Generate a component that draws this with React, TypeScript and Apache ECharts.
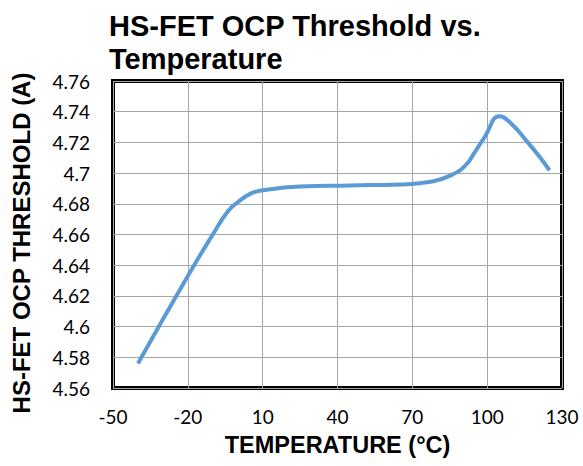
import React, { useEffect, useRef } from "react";
import * as echarts from "echarts";

const titleLines = ["HS-FET OCP Threshold vs.", "Temperature"];
const xAxisName = "TEMPERATURE (°C)";
const yAxisName = "HS-FET OCP THRESHOLD (A)";
const temperatures = [-40, -20, -10, -4, 0, 5, 10, 25, 45, 65, 78, 86, 91, 95, 99, 105, 110, 115.5, 121, 125];
const thresholds = [4.576, 4.633, 4.66, 4.675, 4.681, 4.6865, 4.6888, 4.6913, 4.692, 4.6926, 4.6945, 4.699, 4.7045, 4.7135, 4.7235, 4.7371, 4.7317, 4.7215, 4.7106, 4.7017];

export default function App() {
  const ref = useRef<HTMLDivElement>(null);
  useEffect(() => {
    const chart = echarts.init(ref.current!, null, { renderer: "svg" });
    chart.setOption({
      animation: false,
      backgroundColor: "#fff",
      title: {
        text: titleLines.join("\n"),
        left: 104,
        top: 4,
        textStyle: {
          fontFamily: "Liberation Sans, Arial, sans-serif",
          fontWeight: "bold",
          fontSize: 29,
          lineHeight: 33,
          color: "#000",
        },
      },
      graphic: [
        {
          type: "text",
          x: 21,
          y: 243,
          rotation: Math.PI / 2,
          style: {
            text: yAxisName,
            align: "center",
            verticalAlign: "middle",
            fontFamily: "Liberation Sans, Arial, sans-serif",
            fontWeight: "bold",
            fontSize: 24,
            fill: "#000",
          },
        },
      ],
      grid: {
        left: 113,
        right: 21,
        top: 81,
        bottom: 78,
        show: true,
        borderColor: "#000",
        borderWidth: 4,
        containLabel: false,
      },
      xAxis: {
        type: "value",
        min: -50,
        max: 130,
        interval: 30,
        name: xAxisName,
        nameLocation: "middle",
        nameGap: 45,
        nameTextStyle: {
          fontFamily: "Liberation Sans, Arial, sans-serif",
          fontWeight: "bold",
          fontSize: 23.5,
          color: "#000",
        },
        axisLine: { show: false },
        axisTick: { show: false },
        axisLabel: {
          fontFamily: "Lato, sans-serif",
          fontSize: 19,
          color: "#000",
          margin: 19,
        },
        splitLine: { show: true, lineStyle: { color: "#a6a6a6", width: 1 } },
      },
      yAxis: {
        type: "value",
        min: 4.56,
        max: 4.76,
        interval: 0.02,
        axisLine: { show: false },
        axisTick: { show: false },
        axisLabel: {
          fontFamily: "Lato, sans-serif",
          fontSize: 19,
          color: "#000",
          margin: 23,
          formatter: (v: number) => String(parseFloat(v.toFixed(2))),
        },
        splitLine: { show: true, lineStyle: { color: "#a6a6a6", width: 1 } },
      },
      series: [
        {
          type: "line",
          data: temperatures.map((t, i) => [t, thresholds[i]]),
          smooth: 0.5,
          showSymbol: false,
          lineStyle: { color: "#5b9bd5", width: 4 },
        },
      ],
    });
    return () => chart.dispose();
  }, []);
  return (
    <div
      ref={ref}
      style={{ position: "absolute", left: 0, top: 0, width: 583, height: 466 }}
    />
  );
}
